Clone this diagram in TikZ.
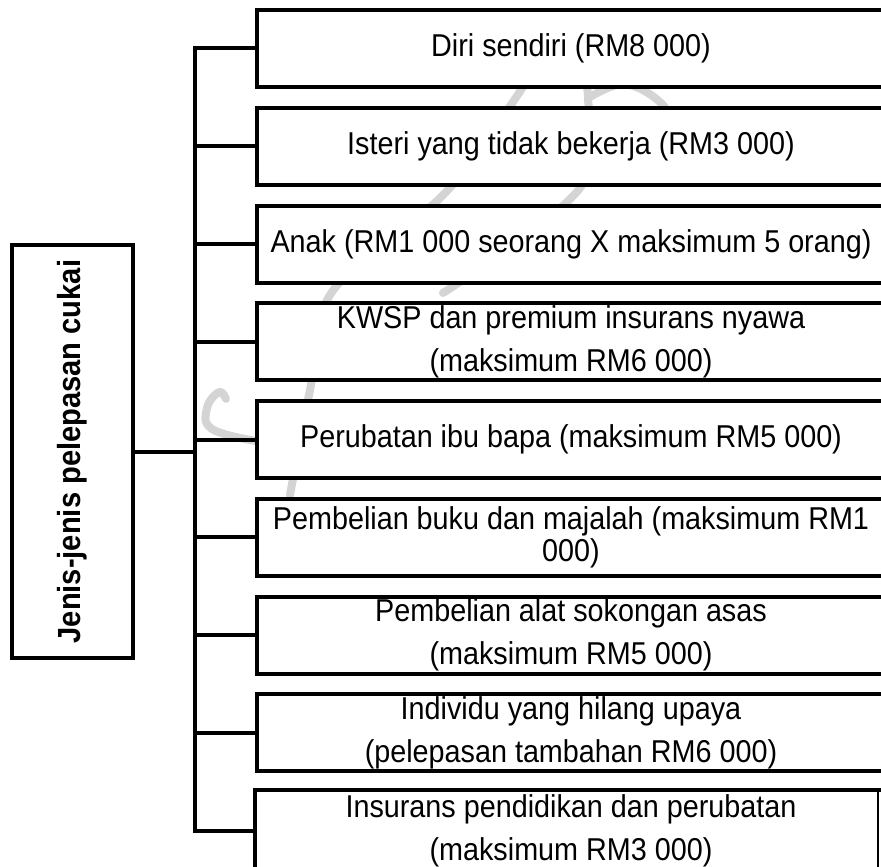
\documentclass[tikz,border=0pt]{standalone}
\usepackage{fontspec}
\setmainfont[FakeStretch=0.91]{Liberation Sans}
\begin{document}
\begin{tikzpicture}[x=1pt, y=-1pt,
  heavy/.style={line width=4pt, line join=miter, line cap=rect},
  itembox/.style={heavy, draw, fill=white, rectangle, minimum width=628pt,
    minimum height=77pt, inner sep=0pt, align=center,
    font=\fontsize{31.6}{43}\selectfont},
  tightlines/.style={font=\fontsize{31.6}{32}\selectfont},
  mark stroke/.style={draw=black!17, line width=8pt, line cap=round, line join=round}]
\clip (0,0) rectangle (881,867);
\fill[white] (0,0) rectangle (881,867);

% faint watermark strokes behind the chart
\draw[mark stroke] plot[smooth, tension=0.6] coordinates
  {(530,70) (517,96) (445,193) (332,292) (310,390) (290,495)};
\draw[mark stroke] plot[smooth, tension=0.6] coordinates
  {(578,62) (588,98) (580,188) (443,293)};
\draw[mark stroke] plot[smooth, tension=0.6] coordinates
  {(590,97) (625,84) (662,104) (680,140)};
\draw[mark stroke] plot[smooth, tension=0.7] coordinates
  {(226,399) (219,392) (207,408) (212,429) (256,441)};

% main category box with vertical title
\node[heavy, draw, fill=white, minimum width=121pt, minimum height=413pt, inner sep=0pt]
  (main) at (72.5,451.5) {};
\node[rotate=90, font=\fontsize{32}{36}\selectfont\bfseries] (title) at (main.center)
  {Jenis-jenis pelepasan cukai};

% relief items
\node[itembox] (b1) at (571,48.5)  {Diri sendiri (RM8 000)};
\node[itembox] (b2) at (571,146.25) {Isteri yang tidak bekerja (RM3 000)};
\node[itembox] (b3) at (571,244)   {Anak (RM1 000 seorang X maksimum 5 orang)};
\node[itembox] (b4) at (571,341.75) {KWSP dan premium insurans nyawa\\(maksimum RM6 000)};
\node[itembox] (b5) at (571,439.5) {Perubatan ibu bapa (maksimum RM5 000)};
\node[itembox, tightlines] (b6) at (571,537.25) {Pembelian buku dan majalah (maksimum RM1\\000)};
\node[itembox] (b7) at (571,635)   {Pembelian alat sokongan asas\\(maksimum RM5 000)};
\node[itembox] (b8) at (571,732.75) {Individu yang hilang upaya\\(pelepasan tambahan RM6 000)};
\node[itembox, draw=none] (b9) at (571,830.5) {Insurans pendidikan dan perubatan\\(maksimum RM3 000)};
% last box: heavy left and top edges, thin right edge
\draw[heavy] (b9.south west) -- (b9.north west) -- (b9.north east);
\draw[line width=1.3pt] ([xshift=-9pt]b9.north east) -- ([xshift=-9pt]b9.south east);

% bus and branches
\coordinate (bus) at (195,451.5);
\draw[heavy] (b1.west) -- (b1.west -| bus) -- (b9.west -| bus) -- (b9.west);
\foreach \b in {b2,b3,b4,b5,b6,b7,b8}
  \draw[heavy] (\b.west -| bus) -- (\b.west);
\draw[heavy] (main.east) -- (bus);
\end{tikzpicture}
\end{document}
